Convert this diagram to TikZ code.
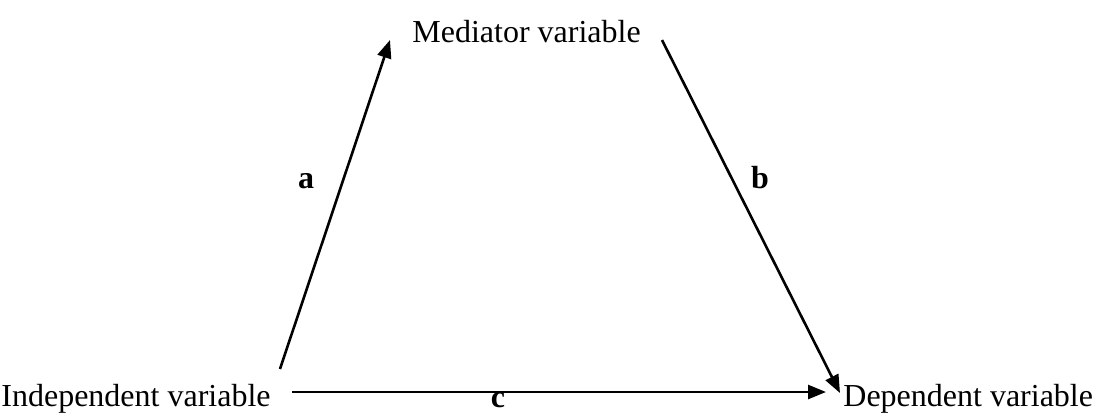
\documentclass[tikz,border=0pt]{standalone}
\usepackage{fontspec}
\setmainfont{Liberation Serif}
\usetikzlibrary{arrows.meta}
\begin{document}
\begin{tikzpicture}[x=0.5pt,y=-0.5pt,
  vartext/.style={anchor=base west,inner sep=0pt,font=\fontsize{16}{19}\selectfont},
  pathlabel/.style={anchor=base,inner sep=0pt,font=\fontsize{16}{19}\selectfont\bfseries},
  conn/.style={line width=1.3pt,-{Triangle[length=9pt,width=7pt]}}]
\useasboundingbox (0,0) rectangle (1100,414);
\node[vartext] (iv) at (1,406) {Independent variable};
\node[vartext] (mv) at (412,42) {Mediator variable};
\node[vartext] (dv) at (843,406) {Dependent variable};
\coordinate (astart) at (280,369);
\coordinate (aend) at (390,40);
\coordinate (bstart) at (662,40);
\coordinate (bend) at (840,393);
\coordinate (cstart) at (292,392);
\coordinate (cend) at (826,392);
\draw[conn] (astart) -- (aend);
\draw[conn] (bstart) -- (bend);
\draw[conn] (cstart) -- (cend);
\node[pathlabel] (la) at (306,188) {a};
\node[pathlabel] (lb) at (760,188) {b};
\node[pathlabel] (lc) at (498,407) {c};
\end{tikzpicture}
\end{document}
